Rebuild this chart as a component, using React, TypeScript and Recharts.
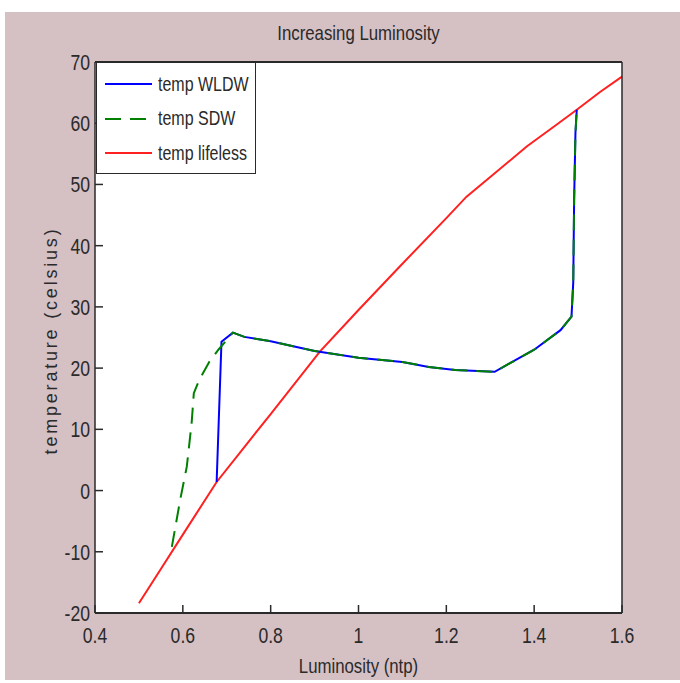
import { LineChart, Line, XAxis, YAxis, CartesianGrid, Legend } from "recharts";

const xTicks = [0.4, 0.6, 0.8, 1, 1.2, 1.4, 1.6];
const yTicks = [-20, -10, 0, 10, 20, 30, 40, 50, 60, 70];

// red: planet with no daisies
const lifelessLum = [0.5, 0.55, 0.6, 0.677, 0.75, 0.8, 0.912, 1.0, 1.094, 1.2, 1.246, 1.3, 1.383, 1.45, 1.497, 1.55, 1.6];
const lifelessTemp = [-18.4, -12.8, -7.2, 1.4, 8.0, 12.5, 22.7, 29.5, 36.6, 44.5, 48, 51.2, 56.2, 59.7, 62.2, 65.1, 67.6];

// part of the curve both daisy worlds share after the jump
const sharedLum = [0.714, 0.74, 0.8, 0.9, 1.0, 1.1, 1.16, 1.22, 1.31, 1.345, 1.4, 1.46, 1.485, 1.489, 1.491, 1.494, 1.497];
const sharedTemp = [25.8, 25.1, 24.4, 22.8, 21.7, 21.0, 20.2, 19.7, 19.4, 20.8, 23.0, 26.2, 28.4, 34, 47.4, 58.4, 62.2];

const wldwLum = [0.677, 0.688, ...sharedLum];
const wldwTemp = [1.4, 24.3, ...sharedTemp];

const sdwLum = [0.575, 0.594, 0.609, 0.62, 0.625, 0.637, 0.66, 0.681, ...sharedLum];
const sdwTemp = [-9.2, -1.5, 3.9, 11, 15.9, 18.0, 21.0, 23.0, ...sharedTemp];

const toPoints = (xs: number[], ys: number[]) => xs.map((x, i) => ({ x, y: ys[i] }));

const lifelessData = toPoints(lifelessLum, lifelessTemp);
const wldwData = toPoints(wldwLum, wldwTemp);
const sdwData = toPoints(sdwLum, sdwTemp);

const SANS = "'Liberation Sans', Arial, sans-serif";
const SQUEEZE = 0.8; // matlab export looks horizontally squashed
const INK = "#2a2a2a";
const TICK_LEN = 8;
const BOTTOM_MARGIN = 14;
const LEFT_MARGIN = 5;

const legendItems = [
  { label: "temp WLDW", color: "#0000ff", dash: undefined },
  { label: "temp SDW", color: "#008000", dash: "16 9" },
  { label: "temp lifeless", color: "#ff2020", dash: undefined },
];

function NarrowText({ x, y, anchor, size, children }: any) {
  return (
    <text
      transform={`translate(${x} ${y}) scale(${SQUEEZE} 1)`}
      textAnchor={anchor}
      fill={INK}
      fontSize={size}
      fontFamily={SANS}
    >
      {children}
    </text>
  );
}

function BottomTick(props: any) {
  const { x, y, payload } = props;
  const axisY = y - BOTTOM_MARGIN;
  return (
    <g>
      <line x1={x} x2={x} y1={axisY} y2={axisY - TICK_LEN} stroke={INK} strokeWidth={1.5} />
      <NarrowText x={x} y={y + 16} anchor="middle" size={22}>
        {payload.value}
      </NarrowText>
    </g>
  );
}

function LeftTick(props: any) {
  const { x, y, payload } = props;
  const axisX = x + LEFT_MARGIN;
  return (
    <g>
      <line x1={axisX} x2={axisX + TICK_LEN} y1={y} y2={y} stroke={INK} strokeWidth={1.5} />
      <NarrowText x={x} y={y + 8} anchor="end" size={22}>
        {payload.value}
      </NarrowText>
    </g>
  );
}

function TopTick(props: any) {
  const { x, y } = props;
  return <line x1={x} x2={x} y1={y} y2={y + TICK_LEN} stroke={INK} strokeWidth={1.5} />;
}

function RightTick(props: any) {
  const { x, y } = props;
  return <line x1={x} x2={x - TICK_LEN} y1={y} y2={y} stroke={INK} strokeWidth={1.5} />;
}

function LegendBox() {
  return (
    <div
      style={{
        background: "#fff",
        border: `1px solid ${INK}`,
        width: 160,
        height: 112,
        boxSizing: "border-box",
        paddingTop: 4,
      }}
    >
      {legendItems.map((item) => (
        <div key={item.label} style={{ display: "flex", alignItems: "center", height: 34.5, whiteSpace: "nowrap" }}>
          <svg width={48} height={10} style={{ marginLeft: 8, flex: "none" }}>
            <line x1={0} x2={47} y1={5} y2={5} stroke={item.color} strokeWidth={2} strokeDasharray={item.dash} />
          </svg>
          <span
            style={{
              fontFamily: SANS,
              fontSize: 20,
              color: INK,
              marginLeft: 5,
              display: "inline-block",
              transform: `scaleX(${SQUEEZE})`,
              transformOrigin: "left center",
            }}
          >
            {item.label}
          </span>
        </div>
      ))}
    </div>
  );
}

export default function App() {
  return (
    <div style={{ position: "absolute", left: 0, top: 0, width: 680, height: 683, background: "#fff" }}>
      <div style={{ position: "absolute", left: 5, top: 12, width: 675, height: 668, background: "#d5c0c4" }} />
      <div
        style={{
          position: "absolute",
          left: 95,
          width: 527,
          top: 20,
          textAlign: "center",
          fontFamily: SANS,
          fontSize: 21,
          color: INK,
          lineHeight: "26px",
          transform: `scaleX(${SQUEEZE})`,
        }}
      >
        Increasing Luminosity
      </div>
      <div style={{ position: "absolute", left: 0, top: 0 }}>
        <LineChart width={680} height={683} margin={{ top: 61, right: 57, left: 35, bottom: 0 }}>
          <CartesianGrid fill="#fff" horizontal={false} vertical={false} />
          <XAxis
            dataKey="x"
            type="number"
            domain={[0.4, 1.6]}
            ticks={xTicks}
            height={70}
            tickSize={0}
            tickMargin={BOTTOM_MARGIN}
            tickLine={false}
            tick={<BottomTick />}
            axisLine={{ stroke: INK, strokeWidth: 2 }}
            label={{
              content: (p: any) => {
                const vb = p.viewBox;
                return (
                  <NarrowText x={vb.x + vb.width / 2} y={vb.y + 60} anchor="middle" size={21}>
                    Luminosity (ntp)
                  </NarrowText>
                );
              },
            }}
          />
          <XAxis
            xAxisId="top"
            orientation="top"
            type="number"
            domain={[0.4, 1.6]}
            ticks={xTicks}
            height={1}
            tickSize={0}
            tickMargin={0}
            tickLine={false}
            tick={<TopTick />}
            axisLine={{ stroke: INK, strokeWidth: 2 }}
          />
          <YAxis
            type="number"
            domain={[-20, 70]}
            ticks={yTicks}
            width={60}
            tickSize={0}
            tickMargin={LEFT_MARGIN}
            tickLine={false}
            tick={<LeftTick />}
            axisLine={{ stroke: INK, strokeWidth: 1.5 }}
            label={{
              content: (p: any) => {
                const vb = p.viewBox;
                const cy = vb.y + vb.height / 2 + 3;
                return (
                  <text
                    x={51}
                    y={cy}
                    transform={`rotate(-90 51 ${cy})`}
                    textAnchor="middle"
                    dominantBaseline="central"
                    fill={INK}
                    fontSize={18}
                    letterSpacing={2.8}
                    fontFamily={SANS}
                  >
                    temperature (celsius)
                  </text>
                );
              },
            }}
          />
          <YAxis
            yAxisId="right"
            orientation="right"
            type="number"
            domain={[-20, 70]}
            ticks={yTicks}
            width={1}
            tickSize={0}
            tickMargin={0}
            tickLine={false}
            tick={<RightTick />}
            axisLine={{ stroke: INK, strokeWidth: 1.5 }}
          />
          <Line data={lifelessData} dataKey="y" name="temp lifeless" stroke="#ff2020" strokeWidth={2} dot={false} isAnimationActive={false} />
          <Line data={wldwData} dataKey="y" name="temp WLDW" stroke="#0000ff" strokeWidth={2} dot={false} isAnimationActive={false} />
          <Line data={sdwData} dataKey="y" name="temp SDW" stroke="#008000" strokeWidth={2} strokeDasharray="16 9" dot={false} isAnimationActive={false} />
          <Legend
            layout="vertical"
            align="center"
            verticalAlign="middle"
            content={() => <LegendBox />}
            wrapperStyle={{ left: 96, top: 62, width: 160, height: 112 }}
          />
        </LineChart>
      </div>
    </div>
  );
}
